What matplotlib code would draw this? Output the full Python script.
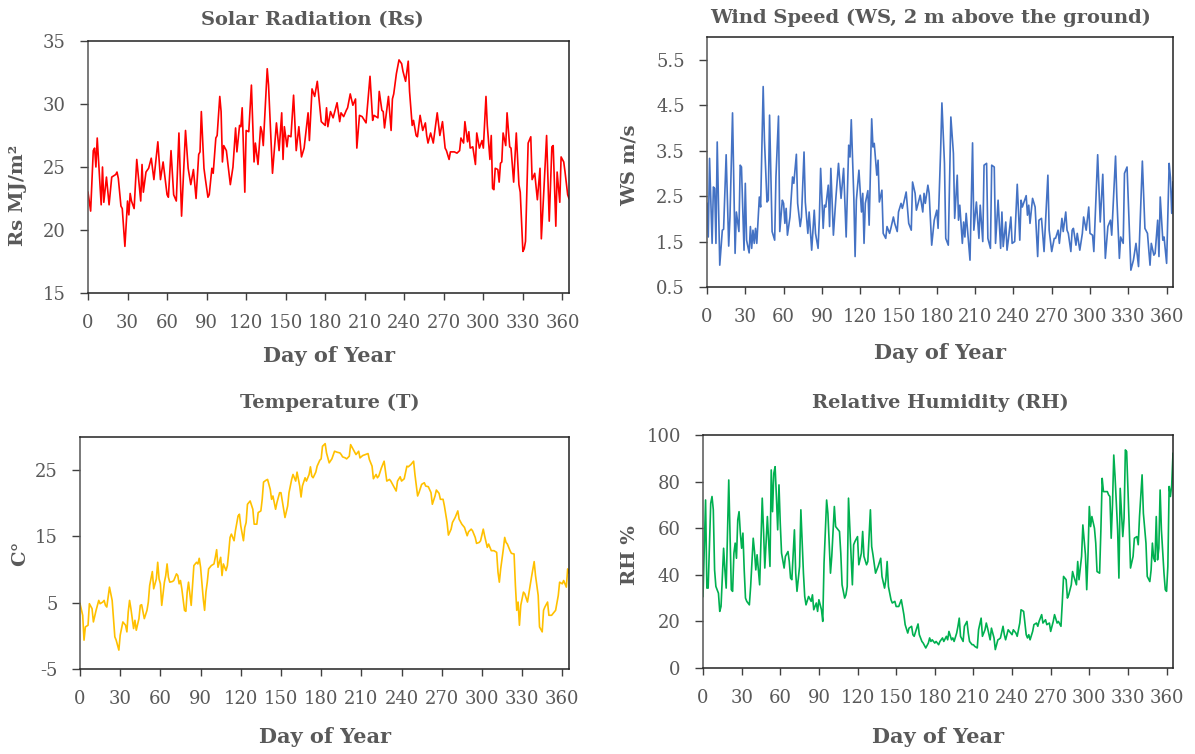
import matplotlib
matplotlib.use("Agg")
import matplotlib.pyplot as plt

plt.rcParams['font.family'] = ['DejaVu Serif']

# ---------------- data ----------------
rs_day = [0,2,4,5,6,7,10,11,12,14,16,18,21,22,23,25,26,28,30,31,32,33,35,37,40,41,42,44,46,48,50,53,55,57,60,61,63,65,67,69,71,74,76,78,80,82,84,85,86,88,89,91,92,94,95,97,98,100,101,102,103,105,108,110,112,113,115,116,117,119,120,122,124,126,127,129,131,132,133,136,137,140,143,145,147,148,149,151,152,154,156,158,160,162,164,167,168,170,172,174,177,180,181,182,184,186,188,189,191,192,194,196,197,199,201,203,204,206,208,211,214,216,217,220,221,223,224,225,228,230,231,232,234,236,238,239,241,243,244,246,247,249,250,252,254,256,257,258,260,262,265,267,269,271,272,274,275,278,280,282,283,285,286,288,289,290,292,294,295,297,299,300,302,303,305,306,307,308,309,311,312,313,314,315,317,318,320,321,323,325,327,328,329,330,331,332,334,336,337,339,341,343,344,346,348,350,352,353,355,356,358,359,361,362,364,365]
rs_val = [23.0,21.5,26.3,26.5,25.0,27.3,22.0,25.0,22.2,24.2,22.0,24.2,24.4,24.6,24.1,21.9,21.7,18.7,22.3,21.2,22.9,22.3,21.7,25.6,22.3,25.2,23.0,24.6,24.9,25.7,24.0,27.0,24.0,25.4,22.8,22.6,26.3,22.8,22.3,27.7,21.1,27.9,24.9,23.6,24.8,22.5,26.0,26.2,29.4,24.9,24.1,22.6,22.8,24.9,24.5,27.3,27.5,30.6,29.4,25.4,26.7,26.3,23.6,25.0,28.1,26.2,28.3,28.2,29.7,23.0,27.9,27.8,31.5,25.4,26.9,25.2,28.2,27.8,26.7,32.8,31.5,24.5,28.5,26.3,29.3,25.6,28.2,26.6,27.5,27.4,30.7,26.3,28.2,25.8,26.5,29.3,27.1,31.2,30.6,31.8,28.6,28.3,29.7,28.2,29.4,28.9,29.7,30.1,28.6,29.3,29.0,29.5,29.7,30.8,29.9,30.4,26.5,29.1,29.0,28.5,32.2,28.7,29.1,28.9,31.0,29.5,29.4,28.1,30.6,27.9,30.4,30.8,32.4,33.5,33.2,32.6,31.8,33.4,31.0,28.3,28.7,27.5,27.4,29.1,27.9,28.5,27.5,26.9,27.7,26.9,29.3,27.5,28.6,26.5,26.3,25.6,26.2,26.2,26.1,26.3,27.3,26.9,28.6,27.0,27.8,26.5,26.6,25.2,27.7,26.5,27.1,26.5,30.6,28.3,25.6,27.5,23.3,23.2,24.9,24.8,23.8,25.3,25.4,27.7,26.7,29.3,26.6,26.5,23.8,27.7,23.6,23.0,20.7,18.3,18.5,19.1,26.9,27.4,24.0,24.5,22.4,24.9,19.3,23.3,27.5,20.7,26.6,26.7,20.3,24.6,22.2,25.8,25.4,24.6,22.8,22.5]

ws_day = [0,1,2,4,5,6,7,8,10,12,13,15,17,18,20,22,23,25,26,27,29,30,31,33,34,35,36,37,38,39,41,42,44,45,47,48,49,51,53,54,56,57,59,60,61,62,63,65,67,68,70,71,73,74,76,77,79,80,82,84,85,87,88,89,91,92,93,95,96,97,99,101,103,105,107,109,111,112,113,115,116,117,119,121,122,123,124,126,127,129,130,131,133,134,135,137,138,140,141,143,144,146,147,149,150,152,153,154,156,158,160,161,163,164,166,167,169,170,171,173,174,176,178,180,181,183,184,186,187,189,191,193,194,196,197,198,200,201,202,203,206,208,209,211,213,214,216,217,219,220,222,223,225,226,228,230,231,232,234,235,236,238,239,241,243,245,246,247,250,251,252,253,255,257,259,260,262,264,265,267,268,270,272,273,275,276,278,279,281,282,283,285,286,287,289,290,292,294,295,297,299,300,302,303,305,306,308,310,312,314,316,317,320,321,323,324,326,327,329,331,332,334,336,338,341,343,345,347,348,350,351,353,354,355,357,358,360,362,363,364,365]
ws_val = [2.34,1.60,3.33,1.46,2.70,2.67,1.46,3.69,0.98,1.75,1.77,3.41,1.40,2.04,4.33,1.24,2.15,1.72,3.18,3.14,1.31,2.78,1.53,1.25,1.83,1.35,1.75,1.46,1.79,1.46,2.48,2.26,4.91,3.73,2.37,2.41,4.28,1.72,1.53,2.92,4.26,1.72,2.41,2.34,1.90,2.23,1.64,2.04,2.92,2.78,3.42,2.34,1.83,2.04,3.47,2.37,1.68,2.15,1.31,2.19,1.68,1.35,2.01,3.11,1.79,2.30,2.26,2.74,1.83,3.11,1.64,2.48,3.22,2.45,3.11,1.60,3.62,3.36,4.18,2.48,1.17,2.41,3.07,2.15,2.56,1.46,2.34,2.62,1.86,4.20,3.58,3.66,2.96,3.29,2.37,2.63,1.68,1.57,1.83,1.68,1.79,2.04,1.90,1.72,2.15,2.34,2.23,2.34,2.59,1.90,1.75,2.81,2.56,2.19,2.41,2.52,2.15,2.56,2.34,2.74,2.56,1.42,1.97,2.19,1.79,3.51,4.55,3.22,1.57,1.42,4.24,3.44,2.01,2.96,1.97,2.30,1.46,1.93,1.60,2.12,1.09,3.67,1.75,2.37,1.57,2.30,1.50,3.18,3.22,1.57,1.35,3.18,3.14,1.46,2.41,1.35,2.15,1.39,1.93,1.31,1.53,2.04,1.46,1.50,2.76,1.53,2.41,2.26,2.51,2.08,2.30,1.90,2.45,2.26,1.17,1.97,2.01,1.28,1.83,2.96,1.75,1.28,1.57,1.57,1.75,1.46,2.01,1.72,2.15,1.75,1.68,1.28,1.75,1.79,1.42,1.68,1.31,1.68,2.04,1.75,2.26,1.68,1.64,1.28,2.70,3.41,1.93,2.98,1.13,1.83,1.97,1.64,3.38,2.48,1.13,1.60,1.46,3.00,3.14,1.60,0.87,1.09,1.46,0.95,3.27,1.79,1.68,0.98,1.46,1.20,1.24,1.97,1.17,2.48,1.53,1.60,1.02,3.22,2.90,2.12,2.81]

t_day = [0,2,3,4,6,7,9,10,12,14,15,17,18,19,20,22,24,25,26,27,29,30,32,34,35,36,37,38,40,41,42,44,45,46,48,50,51,52,54,55,57,58,59,60,61,63,64,65,66,67,69,70,72,73,74,75,76,78,79,80,81,83,84,85,87,88,89,90,92,93,94,95,96,98,100,101,102,103,105,106,107,109,110,111,112,113,115,116,118,119,120,122,123,124,125,127,129,130,132,133,135,136,137,139,140,142,143,144,146,147,149,150,152,153,155,156,158,159,161,162,164,165,166,168,169,171,172,173,174,176,177,179,180,181,183,184,186,188,190,192,194,195,196,198,199,201,202,204,206,208,209,211,213,215,216,218,219,221,222,223,225,227,228,229,231,232,234,236,237,239,240,242,244,245,247,249,250,252,253,255,257,258,260,262,263,265,266,268,269,271,272,274,275,277,278,280,282,283,285,287,289,290,292,293,295,296,298,299,301,302,304,305,307,309,311,312,313,314,316,317,318,319,321,322,324,325,326,327,328,329,331,332,334,336,337,339,340,342,343,345,346,347,349,350,352,353,355,357,358,360,361,363,364,365]
t_val = [4.85,3.1,-0.65,1.35,1.6,4.85,4.1,2.1,3.85,5.35,4.85,5.1,5.35,4.6,4.35,7.35,5.35,2.6,-0.15,-0.65,-2.15,0.1,2.1,1.6,0.6,3.6,5.35,4.1,1.1,2.35,0.85,2.6,4.6,4.7,2.6,3.85,5.1,7.6,9.7,7.1,8.6,11.1,8.6,7.85,4.6,8.1,9.1,10.85,8.85,8.1,8.2,8.35,9.35,9.1,7.85,8.35,7.1,3.85,3.7,6.6,8.1,4.6,7.6,10.6,11.1,10.85,11.7,10.35,5.6,3.85,6.6,8.1,10.1,10.6,10.85,11.85,13.0,10.35,11.85,9.1,10.85,9.85,10.6,12.6,14.85,15.35,14.35,15.85,18.1,18.35,16.6,14.35,16.35,17.1,19.85,20.35,19.1,16.85,16.85,18.6,18.85,20.6,23.2,23.5,23.6,22.1,20.6,21.1,19.1,20.1,21.6,21.6,19.1,17.85,19.6,21.6,23.6,24.35,23.35,24.7,22.6,20.95,22.6,23.85,23.35,24.35,25.5,24.1,23.85,24.7,25.6,26.5,26.7,28.6,29.0,27.6,26.1,26.7,27.85,27.7,27.6,27.35,27.0,26.85,26.7,27.1,28.85,28.1,27.35,27.85,26.85,27.2,27.35,27.5,26.6,25.6,23.7,24.35,23.85,24.1,25.35,26.35,24.85,23.35,23.6,23.35,22.6,21.85,23.35,24.0,23.35,23.7,25.6,25.5,25.85,26.35,24.35,21.1,21.6,22.85,23.1,22.6,22.5,21.6,19.85,21.1,22.0,21.5,20.6,20.6,19.6,17.1,15.2,16.1,17.1,17.85,18.85,17.6,16.85,16.35,15.1,15.7,16.1,15.85,14.85,13.95,14.1,14.35,16.1,15.1,13.35,13.85,12.85,12.85,12.6,9.6,8.1,10.1,13.1,14.85,14.1,13.85,12.85,12.45,12.35,7.6,3.85,5.1,1.6,4.6,6.6,6.35,5.1,7.6,8.85,11.2,9.1,6.1,1.35,0.6,3.85,4.35,5.1,3.1,3.1,3.35,3.85,6.1,8.1,7.85,8.35,7.35,10.1,9.5]

rh_day = [0,2,3,4,6,7,8,9,10,12,13,14,16,17,18,20,22,23,24,25,26,27,28,29,30,31,32,33,34,36,37,39,40,41,42,44,46,47,48,49,50,52,53,54,55,56,57,58,59,60,61,63,64,66,67,68,69,71,72,73,75,76,78,79,80,82,84,85,86,88,89,90,92,93,94,96,97,99,100,102,103,105,106,107,108,110,111,112,113,115,116,117,118,120,121,123,124,125,127,128,130,131,132,134,136,138,139,141,142,143,144,146,147,149,150,152,153,154,156,157,159,160,162,163,164,166,167,168,170,171,173,175,176,177,178,180,181,183,184,186,187,189,190,191,193,194,195,197,198,199,200,202,203,205,206,207,209,210,211,213,214,216,217,219,220,221,223,224,226,227,229,230,231,233,234,235,237,238,240,241,243,244,246,247,249,251,252,253,254,256,257,259,260,261,263,264,266,267,269,270,272,273,275,276,278,279,280,282,283,284,286,287,288,290,291,292,294,295,297,298,299,300,301,302,304,305,306,308,309,310,311,313,314,315,316,317,318,319,320,322,323,324,326,327,328,329,331,332,334,335,337,338,339,341,342,344,345,347,348,349,350,351,352,353,354,355,356,358,359,360,361,362,363,364,365]
rh_val = [30.7,72.1,34.3,34.3,70.7,73.6,67.9,42.1,35.0,32.1,24.3,26.4,51.4,42.1,34.3,80.7,33.6,32.9,49.3,53.6,47.1,63.6,67.1,57.9,51.4,57.9,42.1,30.0,28.6,27.1,35.0,55.7,50.0,42.1,48.6,35.7,72.9,59.3,42.9,53.6,65.0,43.6,85.0,67.1,83.6,86.4,73.6,59.3,78.6,62.1,49.3,42.9,47.9,50.0,45.7,38.6,37.9,59.3,40.7,32.9,43.6,67.9,40.7,30.7,27.1,30.7,28.6,31.4,25.0,27.9,24.3,29.3,25.0,20.0,45.0,72.1,66.4,40.7,47.9,69.3,60.7,59.3,58.6,49.3,35.7,30.0,31.4,35.0,72.9,47.9,35.7,52.9,54.3,56.4,44.3,49.3,58.6,47.9,44.3,45.7,67.9,52.1,48.6,40.7,43.6,47.1,39.3,34.3,37.9,45.7,35.0,29.3,27.9,28.6,26.4,26.4,27.9,29.3,22.9,18.6,15.0,17.1,17.9,14.3,13.6,17.1,18.9,14.3,11.4,10.7,8.6,10.7,12.9,11.4,12.1,10.7,11.4,10.0,11.4,12.9,11.4,13.6,12.1,15.7,12.1,12.9,11.4,15.0,17.9,21.4,13.6,11.4,17.9,20.0,15.0,11.4,10.0,10.0,9.3,8.6,16.4,21.4,13.6,16.4,19.3,17.1,12.1,17.1,12.9,7.9,12.1,12.4,12.9,17.9,14.3,12.1,16.4,15.7,14.3,16.4,15.0,13.6,19.3,25.0,24.3,14.3,12.9,14.3,12.1,15.7,18.6,19.3,17.9,20.0,22.9,19.3,20.7,18.6,19.3,15.7,20.0,22.9,19.3,20.0,17.9,27.9,39.3,37.9,30.0,31.4,35.7,41.4,39.3,35.7,45.7,37.9,47.9,61.4,48.6,33.6,48.6,69.3,60.7,65.0,60.0,53.6,41.4,40.7,59.3,81.4,75.7,75.7,75.7,74.3,73.6,55.7,70.0,91.4,82.1,59.3,38.6,77.1,56.4,64.3,93.6,92.9,60.7,42.9,47.9,55.7,56.4,52.9,65.0,82.9,66.4,53.6,39.3,37.1,42.1,53.6,47.1,45.7,65.0,46.4,51.4,76.4,59.3,40.7,33.6,32.9,43.6,77.9,73.6,78.6,92.1]

x_ticks = [0, 30, 60, 90, 120, 150, 180, 210, 240, 270, 300, 330, 360]

titles = ["Solar Radiation (Rs)", "Wind Speed (WS, 2 m above the ground)",
          "Temperature (T)", "Relative Humidity (RH)"]
ylabels = ["Rs MJ/m\u00b2", "WS m/s", "C\u00b0", "RH %"]
xlabel = "Day of Year"

# ---------------- figure ----------------
W, H = 1195, 754
fig = plt.figure(figsize=(W / 100, H / 100), dpi=100)
GRAY = "#595959"

def px_rect(x0, y0, x1, y1):
    return [x0 / W, 1 - y1 / H, (x1 - x0) / W, (y1 - y0) / H]

panels = [
    dict(rect=px_rect(88, 41, 569, 293), x=rs_day, y=rs_val, color="#FF0000",
         ylim=(15, 35), yticks=[15, 20, 25, 30, 35], ylabels=["15", "20", "25", "30", "35"],
         title_xy=(312, 20), xlab_xy=(329, 356), ylab_xy=(18, 195)),
    dict(rect=px_rect(707, 37, 1173, 287), x=ws_day, y=ws_val, color="#4472C4",
         ylim=(0.5, 6.0), yticks=[0.5, 1.5, 2.5, 3.5, 4.5, 5.5],
         ylabels=["0.5", "1.5", "2.5", "3.5", "4.5", "5.5"],
         title_xy=(931, 18), xlab_xy=(940, 353), ylab_xy=(630, 165)),
    dict(rect=px_rect(80, 437, 569, 669), x=t_day, y=t_val, color="#FFC000",
         ylim=(-5, 30), yticks=[-5, 5, 15, 25], ylabels=["-5", "5", "15", "25"],
         title_xy=(330, 403), xlab_xy=(325, 737), ylab_xy=(20, 553)),
    dict(rect=px_rect(703, 435, 1173, 668), x=rh_day, y=rh_val, color="#00B050",
         ylim=(0, 100), yticks=[0, 20, 40, 60, 80, 100],
         ylabels=["0", "20", "40", "60", "80", "100"],
         title_xy=(940, 403), xlab_xy=(938, 737), ylab_xy=(630, 555)),
]

for i, p in enumerate(panels):
    ax = fig.add_axes(p["rect"])
    ax.plot(p["x"], p["y"], color=p["color"], lw=1.2, solid_joinstyle="round")
    ax.set_xlim(0, 365)
    ax.set_ylim(*p["ylim"])
    ax.set_xticks(x_ticks)
    ax.set_xticklabels([str(v) for v in x_ticks])
    ax.set_yticks(p["yticks"])
    ax.set_yticklabels(p["ylabels"])
    ax.tick_params(axis="x", direction="out", length=5, width=1, color="#404040",
                   pad=10, labelsize=13, labelcolor=GRAY)
    ax.tick_params(axis="y", direction="out", length=6, width=1, color="#404040",
                   pad=10, labelsize=13, labelcolor=GRAY)
    for side, sp in ax.spines.items():
        sp.set_linewidth(1.1)
        sp.set_color("#222222" if side in ("top", "right", "bottom") else "#555555")
    tx, ty = p["title_xy"]
    fig.text(tx / W, 1 - ty / H, titles[i], ha="center", va="center",
             fontsize=14, fontweight="bold", color=GRAY)
    lx, ly = p["xlab_xy"]
    fig.text(lx / W, 1 - ly / H, xlabel, ha="center", va="center",
             fontsize=15, fontweight="bold", color=GRAY)
    yx, yy = p["ylab_xy"]
    fig.text(yx / W, 1 - yy / H, ylabels[i], ha="center", va="center",
             rotation=90, fontsize=14, fontweight="bold", color=GRAY)

for d, v in ((rs_day, rs_val), (ws_day, ws_val), (t_day, t_val), (rh_day, rh_val)):
    assert len(d) == len(v), (len(d), len(v))

fig.savefig("out.png", dpi=100, facecolor="white")
